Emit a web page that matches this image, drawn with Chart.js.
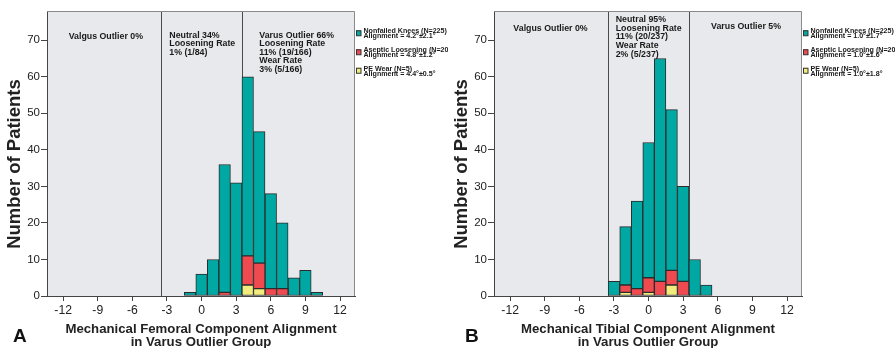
<!DOCTYPE html>
<html>
<head>
<meta charset="utf-8">
<script src="https://cdn.jsdelivr.net/npm/chart.js@4.4.1/dist/chart.umd.min.js"></script>
<style>
  html, body { margin: 0; padding: 0; background: #fff; }
  canvas { position: absolute; top: 0; }
</style>
</head>
<body>
<canvas id="chartA" width="448" height="348" style="left:0"></canvas>
<canvas id="chartB" width="448" height="348" style="left:447px"></canvas>
<script>
// A: femoral component, bins of 1 degree (bin centres)
const femBins = [-1, 0, 1, 2, 3, 4, 5, 6, 7, 8, 9, 10];
const femNonfailed = [1, 6, 10, 35, 31, 49, 36, 26, 18, 5, 7, 1];
const femAseptic = [0, 0, 0, 1, 0, 8, 7, 2, 2, 0, 0, 0];
const femWear = [0, 0, 0, 0, 0, 3, 2, 0, 0, 0, 0, 0];

// B: tibial component
const tibBins = [-3, -2, -1, 0, 1, 2, 3, 4, 5];
const tibNonfailed = [4, 16, 24, 37, 61, 44, 26, 10, 3];
const tibAseptic = [0, 2, 2, 4, 4, 4, 4, 0, 0];
const tibWear = [0, 1, 0, 1, 0, 3, 0, 0, 0];

const xTicks = [-12, -9, -6, -3, 0, 3, 6, 9, 12];
const yTicks = [0, 10, 20, 30, 40, 50, 60, 70];
const zoneEdges = [-3.5, 3.5];

const femLegend = [
  ['Nonfailed Knees (N=225)', 'Alignment = 4.2°±2.1°'],
  ['Aseptic Loosening (N=20)', 'Alignment = 4.8°±1.2°'],
  ['PE Wear (N=5)', 'Alignment = 4.4°±0.5°']
];
const tibLegend = [
  ['Nonfailed Knees (N=225)', 'Alignment = 1.0°±1.7°'],
  ['Aseptic Loosening (N=20)', 'Alignment = 1.0°±1.6°'],
  ['PE Wear (N=5)', 'Alignment = 1.0°±1.8°']
];

const femNotes = [
  ['Valgus Outlier 0%'],
  ['Neutral 34%', 'Loosening Rate', '1% (1/84)'],
  ['Varus Outlier 66%', 'Loosening Rate', '11% (19/166)', 'Wear Rate', '3% (5/166)']
];
const tibNotes = [
  ['Valgus Outlier 0%'],
  ['Neutral 95%', 'Loosening Rate', '11% (20/237)', 'Wear Rate', '2% (5/237)'],
  ['Varus Outlier 5%']
];

const femTitle = ['Mechanical Femoral Component Alignment', 'in Varus Outlier Group'];
const tibTitle = ['Mechanical Tibial Component Alignment', 'in Varus Outlier Group'];

const FONT = '"Liberation Sans", Arial, sans-serif';
Chart.defaults.font.family = FONT;
Chart.defaults.color = '#222';

const COLORS = ['#00a8a3', '#ef4a50', '#f1ec7c'];

const decor = {
  id: 'decor',
  beforeDraw(chart) {
    const { ctx, chartArea: a } = chart;
    ctx.save();
    ctx.fillStyle = '#e8e9ed';
    ctx.fillRect(a.left, a.top, a.right - a.left, a.bottom - a.top);
    ctx.restore();
  },
  beforeDatasetsDraw(chart) {
    const { ctx, chartArea: a, scales: { x } } = chart;
    ctx.save();
    ctx.strokeStyle = '#4a4a4a';
    ctx.lineWidth = 1;
    zoneEdges.forEach(v => {
      const px = Math.round(x.getPixelForValue(v)) + 0.5;
      ctx.beginPath();
      ctx.moveTo(px, a.top);
      ctx.lineTo(px, a.bottom);
      ctx.stroke();
    });
    ctx.restore();
  },
  afterDraw(chart, args, o) {
    const { ctx, chartArea: a, scales: { x, y } } = chart;
    ctx.save();
    // frame top / right
    ctx.strokeStyle = '#8a8a8a';
    ctx.lineWidth = 1;
    ctx.beginPath();
    ctx.moveTo(a.left, a.top + 0.5);
    ctx.lineTo(a.right - 0.5, a.top + 0.5);
    ctx.lineTo(a.right - 0.5, a.bottom);
    ctx.stroke();

    // zone notes
    ctx.fillStyle = '#1a1a1a';
    ctx.font = 'bold 8.8px ' + FONT;
    ctx.textBaseline = 'middle';
    o.notes.forEach((lines, i) => {
      const p = o.notePos[i];
      ctx.textAlign = p.align;
      lines.forEach((t, j) => {
        ctx.fillText(t, x.getPixelForValue(p.x), y.getPixelForValue(p.y) + j * 8.6);
      });
    });

    // legend
    ctx.textAlign = 'left';
    ctx.textBaseline = 'alphabetic';
    ctx.font = 'bold 7.1px ' + FONT;
    [22, 41, 59.5].forEach((dy, i) => {
      const cy = a.top + dy;
      ctx.fillStyle = COLORS[i];
      ctx.fillRect(a.right + 1, cy - 2.75, 5, 5.5);
      ctx.strokeStyle = '#333';
      ctx.strokeRect(a.right + 1.5, cy - 2.25, 4.5, 5);
      ctx.fillStyle = '#1a1a1a';
      ctx.fillText(o.legend[i][0], a.right + 8.5, cy + 0.2);
      ctx.fillText(o.legend[i][1], a.right + 8.5, cy + 5.3);
    });

    // y title
    ctx.save();
    ctx.translate(15, 164);
    ctx.rotate(-Math.PI / 2);
    ctx.textAlign = 'center';
    ctx.textBaseline = 'middle';
    ctx.font = 'bold 18.5px ' + FONT;
    ctx.fillStyle = '#222';
    ctx.fillText('Number of Patients', 0, 0);
    ctx.restore();

    // x title
    ctx.textAlign = 'center';
    ctx.textBaseline = 'middle';
    ctx.font = 'bold 13.2px ' + FONT;
    ctx.fillStyle = '#222';
    const cx = (a.left + a.right) / 2;
    ctx.fillText(o.title[0], cx, 329);
    ctx.fillText(o.title[1], cx, 342);

    // panel letter
    ctx.textAlign = 'left';
    ctx.font = 'bold 19px ' + FONT;
    ctx.fillStyle = '#111';
    ctx.fillText(o.letter, o.letterX, 337);
    ctx.restore();
  }
};

function series(bins, vals) {
  return bins.map((b, i) => ({ x: b, y: vals[i] ? vals[i] : null }));
}

function makeChart(id, bins, nonfailed, aseptic, wear, legend, notes, notePos, title, letter, letterX) {
  const bar = {
    borderColor: '#2b2b2b',
    borderWidth: 1,
    borderSkipped: false,
    barPercentage: 1,
    categoryPercentage: 1
  };
  return new Chart(document.getElementById(id), {
    type: 'bar',
    data: {
      datasets: [
        Object.assign({ label: 'PE Wear', data: series(bins, wear), backgroundColor: COLORS[2] }, bar),
        Object.assign({ label: 'Aseptic Loosening', data: series(bins, aseptic), backgroundColor: COLORS[1] }, bar),
        Object.assign({ label: 'Nonfailed Knees', data: series(bins, nonfailed), backgroundColor: COLORS[0] }, bar)
      ]
    },
    options: {
      responsive: false,
      animation: false,
      layout: { padding: { top: 11, right: 93, left: 0, bottom: 0 } },
      plugins: {
        legend: { display: false },
        tooltip: { enabled: false },
        decor: { legend: legend, notes: notes, notePos: notePos, title: title, letter: letter, letterX: letterX }
      },
      scales: {
        x: {
          type: 'linear',
          stacked: true,
          offset: false,
          min: -13.4,
          max: 13.3,
          afterBuildTicks: s => { s.ticks = xTicks.map(v => ({ value: v })); },
          afterFit: s => { s.height = 52; },
          grid: { offset: false, drawOnChartArea: false, tickLength: 5, color: '#444' },
          border: { color: '#444' },
          ticks: { font: { size: 12.2 }, padding: 2, color: '#222', maxRotation: 0 }
        },
        y: {
          stacked: true,
          min: 0,
          max: 78,
          afterBuildTicks: s => { s.ticks = yTicks.map(v => ({ value: v })); },
          afterFit: s => { s.width = 47; },
          grid: { drawOnChartArea: false, tickLength: 6, color: '#444' },
          border: { color: '#444' },
          ticks: { font: { size: 11.5 }, padding: 1, color: '#222' }
        }
      }
    },
    plugins: [decor]
  });
}

makeChart('chartA', femBins, femNonfailed, femAseptic, femWear, femLegend, femNotes, [
  { x: -8.3, y: 70.9, align: 'center' },
  { x: -2.8, y: 71.4, align: 'left' },
  { x: 5.0, y: 71.4, align: 'left' }
], femTitle, 'A', 13);

makeChart('chartB', tibBins, tibNonfailed, tibAseptic, tibWear, tibLegend, tibNotes, [
  { x: -8.5, y: 73.1, align: 'center' },
  { x: -2.85, y: 75.6, align: 'left' },
  { x: 8.45, y: 73.7, align: 'center' }
], tibTitle, 'B', 18);
</script>
</body>
</html>
